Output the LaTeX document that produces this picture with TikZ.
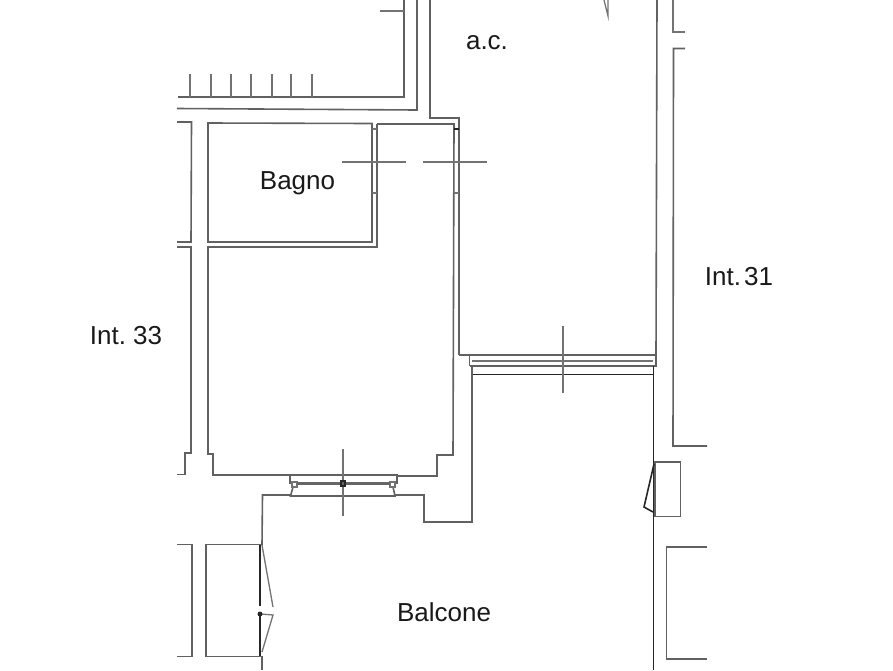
\documentclass[tikz,border=0pt]{standalone}
\usepackage{fontspec}
\setmainfont{Liberation Sans}
\tikzset{
	wall/.style={line width=1.6pt,color=black!62},
	fine/.style={line width=1.3pt,color=black!55},
	dark/.style={line width=1.6pt,color=black!85},
	label/.style={anchor=base,inner sep=0pt,text=black!90,font=\fontsize{26}{26}\selectfont}
}
\begin{document}
\begin{tikzpicture}[x=1pt,y=-1pt]
		\useasboundingbox (0,0) rectangle (893,670);

		% upper flat, walls and stairs
		\draw[wall] (404,0) -- (404,97) -- (178,97);
		\draw[fine] (380,11) -- (404,11);
		\foreach \tick in {190,211,231,251,272,291,312}
			\draw[fine] (\tick,74) -- (\tick,97);
		\draw[wall] (417,0) -- (417,110) -- (177,108.5);
		\draw[wall] (430,0) -- (430,118) -- (459,118) -- (459,355);
		\draw[wall] (657,0) -- (656,355);

		% Bagno and the room below it
		\draw[wall] (208,123) -- (372,123.5) -- (372,242) -- (208,242) -- cycle;
		\draw[wall] (377,124) -- (454,124) -- (453,455) -- (437,455) -- (437,476) -- (397,476);
		\draw[wall] (377,124) -- (377,247) -- (208,247) -- (208,454) -- (213,454) -- (213,475) -- (290,475);
		\draw[fine] (372,129) -- (377,129);
		\draw[fine] (372,193) -- (377,193);
		\draw[dark] (454,129) -- (459,129);
		\draw[fine] (454,193) -- (459,193);
		\draw[fine] (342,162) -- (406,162);
		\draw[fine] (423,162) -- (487,162);

		% left side, Int. 33
		\draw[wall] (177,122) -- (191.5,122) -- (191,242) -- (177,242);
		\draw[wall] (177,247) -- (191,247) -- (191,453) -- (185,453) -- (185,474.5) -- (177,474.5);

		% window to a.c.
		\draw[wall] (459,355) -- (470,355);
		\draw[wall] (469.5,366) -- (469.5,355) -- (656,355) -- (656,366) -- (470,366);
		\draw[fine] (472,361) -- (653,361);
		\draw[dark] (472,374.5) -- (653,374.5);
		\draw[fine] (563,326) -- (563,393);

		% balcone walls
		\draw[wall] (472,366) -- (472,522) -- (424,522) -- (424,495) -- (395,495);
		\draw[dark] (653.5,366) -- (653.5,670);
		\draw[wall] (290,495) -- (262.5,495) -- (262,545);
		\draw[wall] (262,656) -- (262,670);

		% window to the room
		\draw[wall] (290,484) -- (290,475) -- (397,475) -- (397,484);
		\draw[wall] (293,487) -- (290.5,496) -- (395,496) -- (393,487);
		\draw[fine] (292,482) rectangle (297,487);
		\draw[fine] (390,482) rectangle (395,487);
		\draw[line width=2.4pt,color=black!60] (297,483.5) -- (390,483.5);
		\draw[fine] (343,449) -- (343,516);
		\draw[dark,fill=black!60] (341,481) rectangle (345,486);

		% right side, Int. 31
		\draw[fine] (673,0) -- (673,32) -- (685,32);
		\draw[wall] (685,48.5) -- (673.5,48.5) -- (673,446) -- (707,446);
		\draw[wall] (707,547) -- (666.5,547) -- (666.5,659) -- (707,659);
		\draw[wall] (655,462) rectangle (680.5,516.5);
		\draw[dark] (654,464) -- (644,507) -- (653,512);

		% door on the left
		\draw[wall] (177,544.5) -- (192,544.5) -- (192,656.5) -- (177,656.5);
		\draw[wall] (261,544.5) -- (206,544.5) -- (206,656.5) -- (261,656.5);
		\draw[dark] (260,545) -- (260,606);
		\draw[dark] (260,614) -- (260,656);
		\draw[fine] (262,545) -- (273,607);
		\draw[fine] (261,614) -- (273,615) -- (262,652);
		\fill[black!85] (260,614) circle (2.5pt);

		% top of the a.c. leaf
		\draw[fine] (604,0) -- (608,16) -- (608,0);

		\node[label] (ac) at (487,49.5) {a.c.};
		\node[label] (bagno) at (297.5,189.5) {Bagno};
		\node[label] (intB) at (739,285) {Int.\kern3pt 31};
		\node[label] (intA) at (126,344.5) {Int.\kern7pt 33};
		\node[label] (balcone) at (444,621) {Balcone};
	\end{tikzpicture}
\end{document}
